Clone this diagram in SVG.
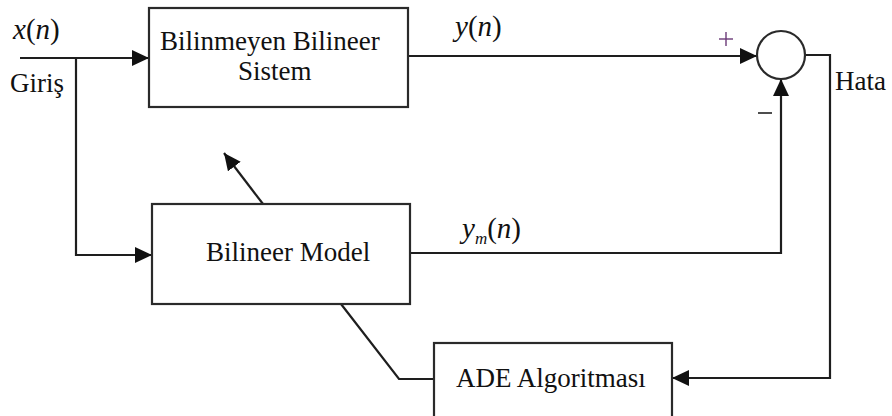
<svg xmlns="http://www.w3.org/2000/svg" width="892" height="416" viewBox="0 0 892 416">
  <style>
    .box { fill: #ffffff; stroke: #2a2a2a; stroke-width: 2.2; }
    .wire { fill: none; stroke: #1e1e1e; stroke-width: 2.2; }
    .lbl { font-family: "Liberation Serif", "Times New Roman", serif; font-size: 27px; fill: #111111; }
    .math { font-family: "Liberation Serif", "Times New Roman", serif; font-size: 29px; font-style: italic; fill: #111111; }
    .up { font-style: normal; }
  </style>
  <defs>
    <marker id="arrow" viewBox="0 0 17 16" refX="17" refY="8" markerWidth="17" markerHeight="16" markerUnits="userSpaceOnUse" orient="auto">
      <path d="M0,0 L17,8 L0,16 Z" fill="#111111"/>
    </marker>
  </defs>

  <rect width="892" height="416" fill="#ffffff"/>

  <!-- connectors -->
  <g id="connectors">
    <!-- input to unknown system -->
    <line class="wire" x1="20" y1="58" x2="149" y2="58" marker-end="url(#arrow)"/>
    <!-- input branch to model -->
    <polyline class="wire" points="76,58 76,255 152,255" marker-end="url(#arrow)"/>
    <!-- system output to summer -->
    <line class="wire" x1="408" y1="56" x2="757" y2="56" marker-end="url(#arrow)"/>
    <!-- model output to summer -->
    <polyline class="wire" points="410,253 781,253 781,79" marker-end="url(#arrow)"/>
    <!-- error to ADE -->
    <polyline class="wire" points="805,55 830,55 830,378 672,378" marker-end="url(#arrow)"/>
    <!-- ADE adjusts model -->
    <polyline class="wire" points="434,379 399,379 341,304"/>
    <!-- parameter update arrow -->
    <line class="wire" x1="263" y1="204" x2="224" y2="153" marker-end="url(#arrow)"/>
  </g>

  <!-- unknown bilinear system -->
  <g id="unknown-system">
    <rect class="box" x="149" y="8" width="259" height="99"/>
    <text class="lbl" x="160" y="50">Bilinmeyen Bilineer</text>
    <text class="lbl" x="238" y="80">Sistem</text>
  </g>

  <!-- bilinear model -->
  <g id="bilinear-model">
    <rect class="box" x="152" y="204" width="258" height="100"/>
    <text class="lbl" x="206" y="261">Bilineer Model</text>
  </g>

  <!-- ADE algorithm -->
  <g id="ade">
    <rect class="box" x="434" y="343" width="238" height="80"/>
    <text class="lbl" x="456" y="387">ADE Algoritması</text>
  </g>

  <!-- summing junction -->
  <g id="summer">
    <circle class="box" cx="781" cy="55" r="24"/>
    <line x1="719" y1="39" x2="733" y2="39" stroke="#6b3a78" stroke-width="1.4"/>
    <line x1="726" y1="32" x2="726" y2="46" stroke="#6b3a78" stroke-width="1.4"/>
    <line x1="758" y1="113" x2="772" y2="113" stroke="#222222" stroke-width="1.6"/>
  </g>

  <!-- signal labels -->
  <g id="labels">
    <text class="math" x="13" y="39">x<tspan class="up">(</tspan>n<tspan class="up">)</tspan></text>
    <text class="lbl" x="10" y="92">Giriş</text>
    <text class="math" x="455" y="36">y<tspan class="up">(</tspan>n<tspan class="up">)</tspan></text>
    <text class="math" x="462" y="238">y<tspan font-size="17" dy="6">m</tspan><tspan class="up" dy="-6">(</tspan>n<tspan class="up">)</tspan></text>
    <text class="lbl" x="835" y="90">Hata</text>
  </g>
</svg>
